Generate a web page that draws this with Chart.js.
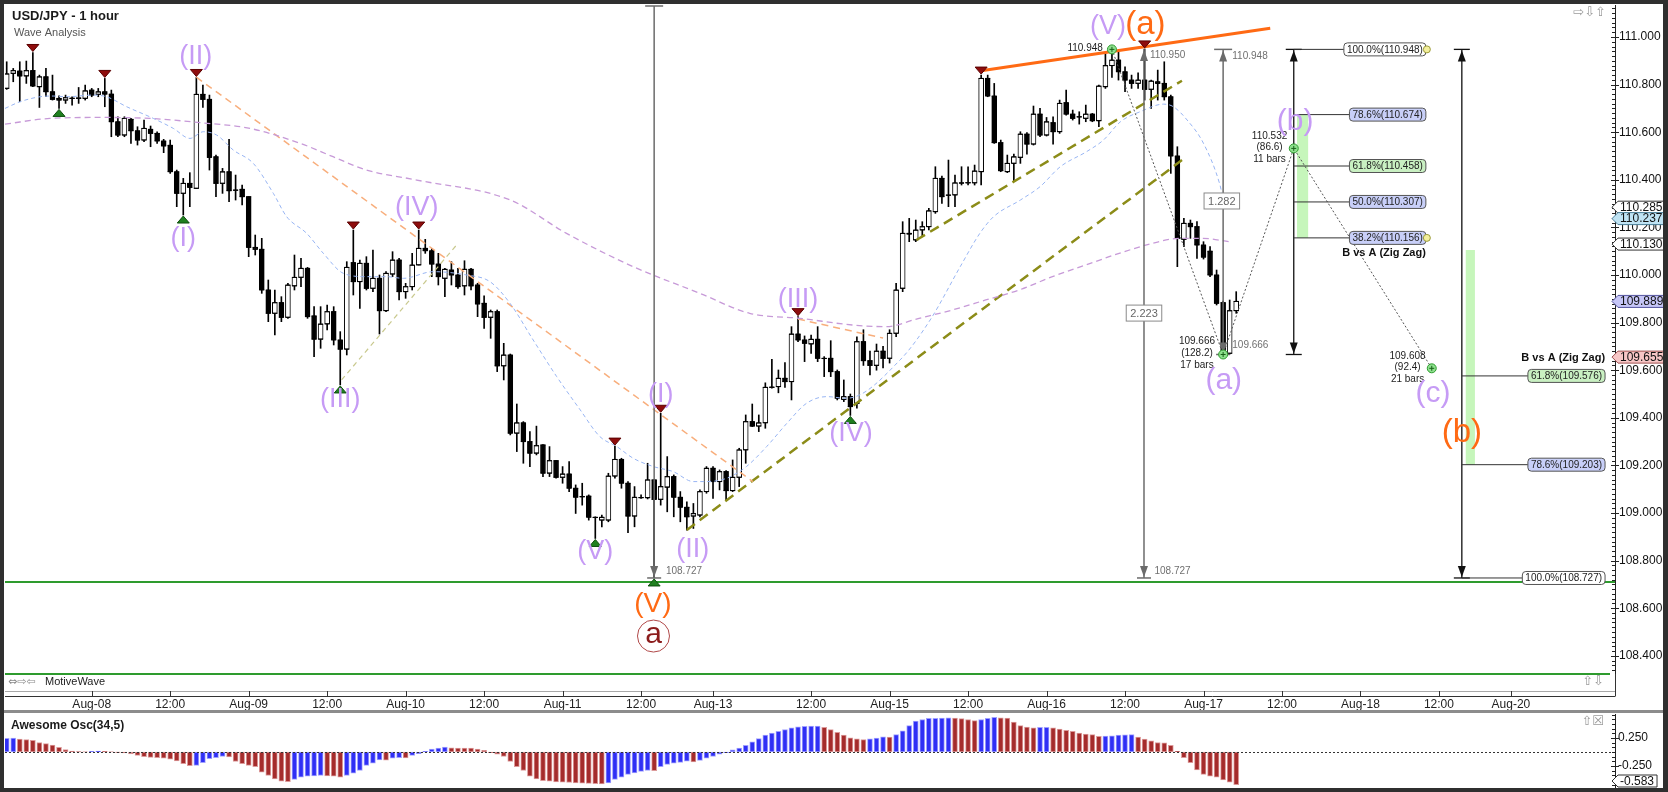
<!DOCTYPE html>
<html>
<head>
<meta charset="utf-8">
<title>USD/JPY - 1 hour</title>
<script src="https://cdn.jsdelivr.net/npm/chart.js@4.4.1/dist/chart.umd.min.js"></script>
<style>
  html, body { margin: 0; padding: 0; background: #fff; }
  #wrap { position: relative; width: 1668px; height: 792px; overflow: hidden; background: #fff; }
  #price-chart { position: absolute; left: 0; top: 0; }
  #osc-chart { position: absolute; left: 0; top: 711px; }
  .frame { position: absolute; background: #2f2f2f; }
</style>
</head>
<body>
<div id="wrap">
  <canvas id="price-chart" width="1668" height="711"></canvas>
  <canvas id="osc-chart" width="1668" height="81"></canvas>
  <div class="frame" style="left:0;top:0;width:1668px;height:4px"></div>
  <div class="frame" style="left:0;top:0;width:4px;height:792px"></div>
  <div class="frame" style="left:1663px;top:0;width:5px;height:792px"></div>
  <div class="frame" style="left:0;top:788px;width:1668px;height:4px"></div>
  <div style="position:absolute;left:4px;top:710px;width:1659px;height:3px;background:#8c8c8c"></div>
</div>
<script>
// hourly bars, index 0 = Aug-08 00:00, first visible bar is -13
const firstBar = -13

const opens = [
  110.784, 110.847, 110.857, 110.836, 110.859, 110.791, 110.833, 110.770, 110.742, 110.735,
  110.743, 110.742, 110.742, 110.777, 110.759, 110.770, 110.760, 110.644, 110.588, 110.654,
  110.606, 110.567, 110.612, 110.595, 110.563, 110.545, 110.434, 110.343, 110.385, 110.364,
  110.759, 110.738, 110.497, 110.385, 110.434, 110.357, 110.360, 110.329, 110.116, 110.108,
  109.937, 109.839, 109.884, 109.822, 109.954, 109.990, 110.028, 109.828, 109.730, 109.794,
  109.846, 109.727, 109.688, 110.052, 109.972, 110.049, 109.944, 109.986, 109.850, 110.004,
  110.063, 109.930, 109.951, 110.042, 110.112, 110.102, 110.046, 109.986, 110.021, 110.000,
  109.954, 110.024, 109.958, 109.881, 109.822, 109.846, 109.618, 109.664, 109.335, 109.379,
  109.300, 109.251, 109.286, 109.167, 109.220, 109.150, 109.164, 109.104, 109.069, 109.071,
  108.982, 108.970, 108.970, 109.155, 109.225, 109.125, 108.987, 109.064, 109.064, 109.139,
  109.057, 109.108, 109.153, 109.066, 109.024, 108.987, 108.991, 109.090, 109.188, 109.132,
  109.174, 109.094, 109.150, 109.265, 109.384, 109.365, 109.379, 109.528, 109.531, 109.566,
  109.552, 109.752, 109.727, 109.710, 109.730, 109.650, 109.650, 109.594, 109.477, 109.489,
  109.460, 109.720, 109.640, 109.620, 109.680, 109.650, 109.755, 109.944, 110.175, 110.147,
  110.189, 110.203, 110.266, 110.406, 110.336, 110.336, 110.387, 110.387, 110.387, 110.434,
  110.826, 110.752, 110.556, 110.434, 110.469, 110.494, 110.592, 110.550, 110.676, 110.588,
  110.640, 110.602, 110.724, 110.676, 110.665, 110.658, 110.676, 110.648, 110.791, 110.880,
  110.903, 110.854, 110.819, 110.805, 110.819, 110.780, 110.812, 110.805, 110.749, 110.500,
  110.150, 110.217, 110.203, 110.126, 110.100, 110.000, 109.884, 109.671, 109.850
]
const highs = [
  110.896, 110.868, 110.896, 110.899, 110.935, 110.840, 110.868, 110.840, 110.753, 110.756,
  110.749, 110.788, 110.798, 110.784, 110.784, 110.826, 110.777, 110.665, 110.665, 110.658,
  110.623, 110.651, 110.626, 110.602, 110.570, 110.567, 110.441, 110.406, 110.430, 110.830,
  110.798, 110.756, 110.504, 110.448, 110.570, 110.420, 110.378, 110.329, 110.168, 110.154,
  109.979, 109.937, 109.909, 109.965, 110.084, 110.070, 110.032, 109.867, 109.867, 109.874,
  109.867, 109.762, 110.056, 110.189, 110.063, 110.077, 110.105, 110.000, 110.014, 110.098,
  110.070, 109.965, 110.091, 110.189, 110.150, 110.112, 110.091, 110.028, 110.056, 110.028,
  110.060, 110.028, 109.965, 109.912, 109.853, 109.853, 109.713, 109.668, 109.458, 109.384,
  109.342, 109.365, 109.288, 109.279, 109.220, 109.195, 109.216, 109.118, 109.125, 109.076,
  108.984, 108.991, 109.167, 109.281, 109.230, 109.132, 109.111, 109.076, 109.209, 109.139,
  109.419, 109.237, 109.160, 109.090, 109.047, 109.040, 109.097, 109.195, 109.195, 109.181,
  109.178, 109.223, 109.272, 109.412, 109.458, 109.412, 109.547, 109.646, 109.601, 109.632,
  109.783, 109.825, 109.744, 109.748, 109.783, 109.657, 109.724, 109.601, 109.559, 109.500,
  109.740, 109.770, 109.680, 109.710, 109.700, 109.770, 109.965, 110.224, 110.238, 110.231,
  110.224, 110.280, 110.455, 110.416, 110.483, 110.420, 110.455, 110.455, 110.462, 110.840,
  110.840, 110.805, 110.567, 110.504, 110.508, 110.602, 110.598, 110.710, 110.700, 110.662,
  110.665, 110.735, 110.777, 110.693, 110.686, 110.714, 110.679, 110.798, 110.932, 110.948,
  110.938, 110.875, 110.840, 110.850, 110.950, 110.819, 110.861, 110.896, 110.756, 110.539,
  110.238, 110.231, 110.224, 110.140, 110.119, 110.021, 109.890, 109.895, 109.930
]
const lows = [
  110.780, 110.812, 110.728, 110.805, 110.791, 110.704, 110.749, 110.735, 110.700, 110.721,
  110.714, 110.721, 110.735, 110.749, 110.749, 110.707, 110.581, 110.581, 110.581, 110.553,
  110.546, 110.560, 110.539, 110.553, 110.514, 110.427, 110.287, 110.252, 110.287, 110.364,
  110.704, 110.441, 110.329, 110.343, 110.308, 110.315, 110.294, 110.077, 110.084, 109.923,
  109.804, 109.748, 109.804, 109.818, 109.937, 109.951, 109.818, 109.657, 109.692, 109.769,
  109.706, 109.538, 109.664, 109.916, 109.860, 109.937, 109.930, 109.752, 109.846, 109.993,
  109.895, 109.902, 109.937, 110.042, 110.091, 109.993, 109.958, 109.909, 109.958, 109.944,
  109.916, 109.937, 109.825, 109.776, 109.734, 109.594, 109.559, 109.328, 109.258, 109.209,
  109.195, 109.244, 109.153, 109.153, 109.146, 109.125, 109.090, 108.998, 109.033, 108.970,
  108.893, 108.942, 108.963, 109.146, 109.104, 108.917, 108.942, 109.061, 109.059, 108.727,
  109.033, 109.005, 108.984, 108.963, 108.928, 108.935, 108.984, 109.083, 109.061, 109.097,
  109.054, 109.090, 109.111, 109.209, 109.363, 109.342, 109.356, 109.524, 109.505, 109.528,
  109.475, 109.720, 109.636, 109.671, 109.636, 109.573, 109.573, 109.475, 109.468, 109.410,
  109.440, 109.620, 109.580, 109.600, 109.610, 109.630, 109.741, 109.930, 110.140, 110.140,
  110.161, 110.189, 110.259, 110.301, 110.287, 110.287, 110.378, 110.378, 110.378, 110.378,
  110.749, 110.553, 110.434, 110.430, 110.392, 110.469, 110.508, 110.546, 110.581, 110.584,
  110.550, 110.595, 110.672, 110.651, 110.634, 110.644, 110.644, 110.623, 110.784, 110.830,
  110.819, 110.770, 110.784, 110.784, 110.735, 110.700, 110.735, 110.735, 110.427, 110.035,
  110.119, 110.154, 110.070, 110.067, 109.993, 109.874, 109.666, 109.668, 109.839
]
const closes = [
  110.845, 110.859, 110.836, 110.859, 110.794, 110.833, 110.770, 110.738, 110.735, 110.745,
  110.742, 110.744, 110.774, 110.756, 110.770, 110.760, 110.644, 110.588, 110.658, 110.606,
  110.567, 110.616, 110.595, 110.563, 110.542, 110.434, 110.343, 110.385, 110.368, 110.759,
  110.738, 110.494, 110.385, 110.434, 110.354, 110.356, 110.329, 110.116, 110.108, 109.937,
  109.839, 109.884, 109.822, 109.958, 109.990, 110.028, 109.825, 109.730, 109.794, 109.846,
  109.727, 109.688, 110.032, 109.972, 110.049, 109.944, 109.986, 109.850, 110.007, 110.063,
  109.930, 109.951, 110.042, 110.112, 110.102, 110.046, 109.993, 110.024, 110.000, 109.951,
  110.024, 109.954, 109.878, 109.822, 109.846, 109.618, 109.664, 109.335, 109.379, 109.300,
  109.251, 109.283, 109.167, 109.220, 109.150, 109.164, 109.104, 109.066, 109.068, 108.982,
  108.981, 108.982, 109.155, 109.225, 109.125, 108.987, 109.066, 109.065, 109.139, 109.057,
  109.111, 109.153, 109.066, 109.024, 108.984, 108.998, 109.090, 109.188, 109.132, 109.174,
  109.094, 109.150, 109.265, 109.384, 109.365, 109.379, 109.528, 109.529, 109.566, 109.552,
  109.752, 109.727, 109.713, 109.730, 109.650, 109.649, 109.594, 109.482, 109.489, 109.447,
  109.720, 109.640, 109.620, 109.680, 109.650, 109.755, 109.937, 110.175, 110.172, 110.189,
  110.203, 110.270, 110.406, 110.329, 110.335, 110.387, 110.386, 110.388, 110.437, 110.826,
  110.752, 110.556, 110.438, 110.469, 110.497, 110.592, 110.550, 110.676, 110.588, 110.644,
  110.602, 110.721, 110.676, 110.658, 110.664, 110.676, 110.648, 110.794, 110.880, 110.903,
  110.854, 110.819, 110.805, 110.819, 110.780, 110.815, 110.805, 110.749, 110.500, 110.154,
  110.217, 110.203, 110.126, 110.075, 110.000, 109.881, 109.671, 109.850, 109.889
]

// Awesome Osc(34,5), one value per bar
const oscValues = [
  0.245, 0.25, 0.23, 0.22, 0.21, 0.17, 0.15, 0.125, 0.083, 0.042,
  0.018, 0.006, 0.002, 0.010, 0.015, 0.010, 0.004, -0.006, -0.018, -0.036,
  -0.06, -0.085, -0.095, -0.10, -0.11, -0.13, -0.16, -0.21, -0.245, -0.24,
  -0.19, -0.12, -0.10, -0.08, -0.09, -0.17, -0.21, -0.24, -0.26, -0.36,
  -0.42, -0.48, -0.52, -0.53, -0.49, -0.45, -0.43, -0.425, -0.42, -0.425,
  -0.43, -0.45, -0.42, -0.38, -0.33, -0.24, -0.20, -0.14, -0.145, -0.11,
  -0.10, -0.105, -0.06, -0.03, 0.01, 0.05, 0.07, 0.09, 0.075, 0.072,
  0.07, 0.068, 0.05, 0.03, -0.01, -0.04, -0.08, -0.17, -0.26, -0.33,
  -0.43, -0.48, -0.51, -0.52, -0.535, -0.54, -0.545, -0.55, -0.555, -0.56,
  -0.565, -0.57, -0.55, -0.49, -0.45, -0.40, -0.375, -0.345, -0.33, -0.335,
  -0.26, -0.22, -0.20, -0.185, -0.165, -0.175, -0.15, -0.11, -0.08, -0.04,
  -0.01, 0.04, 0.07, 0.12, 0.18, 0.24, 0.30, 0.34, 0.37, 0.40,
  0.43, 0.45, 0.46, 0.462, 0.465, 0.44, 0.40, 0.35, 0.30, 0.255,
  0.235, 0.22, 0.235, 0.25, 0.27, 0.268, 0.31, 0.38, 0.47, 0.55,
  0.58, 0.60, 0.602, 0.607, 0.61, 0.607, 0.595, 0.58, 0.56, 0.58,
  0.60, 0.62, 0.61, 0.605, 0.536, 0.47, 0.446, 0.43, 0.44, 0.442,
  0.43, 0.41, 0.387, 0.37, 0.34, 0.32, 0.31, 0.28, 0.285, 0.29,
  0.30, 0.305, 0.31, 0.268, 0.23, 0.20, 0.17, 0.165, 0.12, 0.012,
  -0.10, -0.19, -0.32, -0.40, -0.43, -0.45, -0.50, -0.54, -0.583
]

// moving averages (bar, price)
const maFastBars = [-13.26, -10.96, -7.9, -5.87, -3.83, 0.24, 2.28, 5.35, 9.42, 12.48, 15.03, 17.07, 19.11, 21.65,
  24.71, 27.77, 29.81, 32.87, 35.42, 38.48, 42.05, 45.1, 47.65, 52.2, 57.3, 60.9, 63.96, 67.5, 71.1, 74.7, 77.7,
  80.3, 82.8, 85.9, 88.9, 92.0, 94.0, 97.1, 100.1, 103.2, 106.3, 109.3, 112.4, 115.4, 123.6, 128.2, 132.8, 135.8,
  137.9, 142.0, 145.0, 148.1, 152.1, 154.7, 157.3, 160.3, 163.9, 165.4, 167.5, 170.0, 172.5, 173.0]
const maFastValues = [110.700, 110.728, 110.749, 110.752, 110.749, 110.756, 110.749, 110.707, 110.658, 110.616, 110.574,
  110.602, 110.588, 110.525, 110.469, 110.343, 110.245, 110.175, 110.091, 110.007, 109.993, 109.993, 109.986, 110.014,
  110.000, 109.972, 109.881, 109.727, 109.573, 109.433, 109.321, 109.279, 109.230, 109.195, 109.174, 109.132, 109.132,
  109.146, 109.195, 109.279, 109.377, 109.461, 109.489, 109.482, 109.643, 109.811, 110.035, 110.175, 110.245, 110.315,
  110.371, 110.455, 110.518, 110.567, 110.644, 110.686, 110.718, 110.707, 110.651, 110.553, 110.380, 110.320]
const maSlowBars = [-13.26, -6.4, 1.3, 8.9, 16.6, 24.2, 31.9, 36.9, 42.0, 49.7, 64.0, 72.6, 82.8, 93.0, 100.6, 108.3,
  116.3, 121.4, 126.5, 131.6, 136.7, 141.8, 146.9, 152.0, 157.1, 162.2, 166.3, 169.8, 174.0]
const maSlowValues = [110.634, 110.658, 110.662, 110.658, 110.640, 110.616, 110.553, 110.497, 110.441, 110.399, 110.315,
  110.175, 110.035, 109.923, 109.839, 109.818, 109.790, 109.783, 109.818, 109.853, 109.895, 109.937, 109.993, 110.042,
  110.091, 110.133, 110.154, 110.154, 110.140]

// trend lines (two end points each)
const orangeTopBars = [136.0, 180.2], orangeTopPrices = [110.858, 111.037]
const orangeDashBars = [16, 101.1], orangeDashPrices = [110.831, 109.132]
const orangeDash2Bars = [108, 121], orangeDash2Prices = [109.815, 109.735]
const oliveThinBars = [38.2, 56], oliveThinPrices = [109.559, 110.133]
const oliveLowBars = [91, 167.4], oliveLowPrices = [108.929, 110.497]
const oliveHighBars = [126.1, 166.7], oliveHighPrices = [110.147, 110.816]
const zigBars = [156, 173, 183.8, 204.9], zigPrices = [110.948, 109.666, 110.532, 109.608]

// axis ticks
const priceTicks = [108.4, 108.6, 108.8, 109.0, 109.2, 109.4, 109.6, 109.8, 110.0, 110.2, 110.4, 110.6, 110.8, 111.0]
const timeTickBars = [0, 12, 24, 36, 48, 60, 72, 84, 95, 110, 122, 134, 146, 158, 170, 182, 194, 206, 217]
const timeTickText = ['Aug-08', '12:00', 'Aug-09', '12:00', 'Aug-10', '12:00', 'Aug-11', '12:00', 'Aug-13', '12:00',
  'Aug-15', '12:00', 'Aug-16', '12:00', 'Aug-17', '12:00', 'Aug-18', '12:00', 'Aug-20']
const oscTicks = [0.25, -0.25]

// swing markers
const swingHighBars = [-9, 2, 16, 40, 50, 80, 87, 108, 136, 161]
const swingHighPrices = [110.935, 110.826, 110.830, 110.189, 110.189, 109.281, 109.419, 109.825, 110.840, 110.950]
const swingLowBars = [-5, 14, 38, 77, 86, 116]
const swingLowPrices = [110.700, 110.252, 109.538, 108.893, 108.727, 109.410]
const supportLevel = 108.71

// wave labels (text centre in bar / price units)
const waveText = ['(II)', '(I)', '(III)', '(IV)', '(V)', '(I)', '(II)', '(III)', '(IV)', '(V)']
const waveBars = [15.9, 14.0, 38.0, 49.7, 77.0, 87.0, 91.9, 108.0, 116.1, 155.4]
const wavePrices = [110.916, 110.155, 109.475, 110.282, 108.836, 109.496, 108.845, 109.895, 109.332, 111.042]
const subWaveText = ['(a)', '(b)', '(c)']
const subWaveBars = [173.1, 184.0, 205.1]
const subWavePrices = [109.555, 110.643, 109.500]
const bigWaveText = ['(a)', '(b)', '(V)']
const bigWaveBars = [161.1, 209.5, 85.8]
const bigWavePrices = [111.050, 109.336, 108.618]
const circleWave = { text: 'a', bar: 85.9, price: 108.483 }

// measuring tools
const measBars = [86, 160.9, 173]
const measTop = [111.3, 110.950, 110.948]
const measBottom = [108.727, 108.727, 109.666]
const measText = ['108.727', '110.950', '108.727', '110.948', '109.666']
const measTextBars = [87.8, 161.8, 162.5, 174.4, 174.4]
const measTextPrices = [108.756, 110.924, 108.756, 110.921, 109.706]
const measBoxText = ['2.223', '1.282']
const measBoxBars = [160.9, 172.8]
const measBoxPrices = [109.840, 110.311]

// zig zag notes
const noteText = ['110.948', '109.666', '(128.2)', '17 bars', '110.532', '(86.6)', '11 bars', '109.608', '(92.4)', '21 bars']
const noteBars = [151.9, 169.0, 169.0, 169.0, 180.1, 180.1, 180.1, 201.2, 201.2, 201.2]
const notePrices = [110.952, 109.720, 109.671, 109.622, 110.581, 110.535, 110.486, 109.660, 109.612, 109.563]

// B vs A retracements
const fibABar = 183.8, fibATop = 110.948, fibABottom = 109.666, fibABoxRight = 204.0
const fibALevels = [100.0, 78.6, 61.8, 50.0, 38.2]
const fibAPrices = [110.948, 110.674, 110.458, 110.307, 110.156]
const fibBBar = 209.5, fibBTop = 110.948, fibBBottom = 108.727, fibBBoxRight = 231.4
const fibBLevels = [61.8, 78.6, 100.0]
const fibBPrices = [109.576, 109.203, 108.727]
const fibTitleBars = [204.0, 231.4], fibTitlePrices = [110.091, 109.651]
const zoneFrom = [184.3, 210.1], zoneTo = [186.0, 211.5]
const zoneHigh = [110.674, 110.105], zoneLow = [110.156, 109.203]

// values shown on the price axis
const axisMarks = [110.285, 110.237, 110.130, 109.889, 109.655]

const X_MIN = -13.26, X_MAX = 232.92
const P_MIN = 108.3235, P_MAX = 111.1345
const FONT = "'Liberation Sans', Arial, sans-serif"
const PURPLE = '#c69bf5', ORANGE = '#ff6a14'

Chart.defaults.font.family = FONT
const bars = opens.map((_, k) => firstBar + k)
const pts = (xs, ys) => xs.map((x, k) => ({ x: x, y: ys[k] }))

function line(ctx, x0, y0, x1, y1) {
    ctx.beginPath()
    ctx.moveTo(x0, y0)
    ctx.lineTo(x1, y1)
    ctx.stroke()
}

function arrowHead(ctx, x, tipY, dir) { // dir -1 = up, 1 = down
    ctx.beginPath()
    ctx.moveTo(x, tipY)
    ctx.lineTo(x - 4, tipY - dir * 11)
    ctx.lineTo(x + 4, tipY - dir * 11)
    ctx.closePath()
    ctx.fill()
}

function roundBox(ctx, x, y, w, h, r) {
    ctx.beginPath()
    ctx.moveTo(x + r, y)
    ctx.lineTo(x + w - r, y)
    ctx.arcTo(x + w, y, x + w, y + r, r)
    ctx.lineTo(x + w, y + h - r)
    ctx.arcTo(x + w, y + h, x + w - r, y + h, r)
    ctx.lineTo(x + r, y + h)
    ctx.arcTo(x, y + h, x, y + h - r, r)
    ctx.lineTo(x, y + r)
    ctx.arcTo(x, y, x + r, y, r)
    ctx.closePath()
}

function text(ctx, str, x, y, font, color, align) {
    ctx.font = font
    ctx.fillStyle = color
    ctx.textAlign = align || 'center'
    ctx.textBaseline = 'middle'
    ctx.fillText(str, x, y)
}

function callout(ctx, x, y, str, fill, stroke) {
    ctx.font = '12px ' + FONT
    const w = ctx.measureText(str).width + 5, h = 12
    ctx.beginPath()
    ctx.moveTo(x, y)
    ctx.lineTo(x + 6, y - h / 2)
    ctx.lineTo(x + 6 + w, y - h / 2)
    ctx.lineTo(x + 6 + w, y + h / 2)
    ctx.lineTo(x + 6, y + h / 2)
    ctx.closePath()
    ctx.fillStyle = fill
    ctx.fill()
    ctx.strokeStyle = stroke
    ctx.lineWidth = 1
    ctx.stroke()
    text(ctx, str, x + 8, y + 0.5, '12px ' + FONT, '#111', 'left')
}

function plusMarker(ctx, x, y) {
    ctx.beginPath()
    ctx.arc(x, y, 4.5, 0, Math.PI * 2)
    ctx.fillStyle = '#8de08d'
    ctx.fill()
    ctx.strokeStyle = '#2e9a2e'
    ctx.lineWidth = 1
    ctx.stroke()
    ctx.strokeStyle = '#176017'
    line(ctx, x - 2.5, y, x + 2.5, y)
    line(ctx, x, y - 2.5, x, y + 2.5)
}

function fibTool(ctx, X, Y, bar, top, bottom, levels, prices, boxRight, dotLevels) {
    const x = X(bar), xr = X(boxRight)
    ctx.strokeStyle = '#111'
    ctx.fillStyle = '#111'
    ctx.lineWidth = 1.3
    line(ctx, x, Y(top), x, Y(bottom))
    line(ctx, x - 8, Y(top), x + 8, Y(top))
    line(ctx, x - 8, Y(bottom), x + 8, Y(bottom))
    arrowHead(ctx, x, Y(top) + 1, -1)
    arrowHead(ctx, x, Y(bottom) - 1, 1)
    levels.forEach((lv, k) => {
        const str = lv.toFixed(1) + '%(' + prices[k].toFixed(3) + ')'
        ctx.font = '10px ' + FONT
        const w = ctx.measureText(str).width + 6, y = Y(prices[k])
        ctx.strokeStyle = '#333'
        ctx.lineWidth = 1
        line(ctx, x, y, xr - w, y)
        roundBox(ctx, xr - w, y - 6.5, w, 13, 3.5)
        ctx.fillStyle = lv === 100 ? '#ffffff' : (lv === 61.8 ? '#c9f0c2' : '#c8cff8')
        ctx.fill()
        ctx.strokeStyle = '#555'
        ctx.stroke()
        text(ctx, str, xr - w / 2, y + 0.5, '10px ' + FONT, '#222')
        if (dotLevels.indexOf(lv) >= 0) {
            ctx.beginPath()
            ctx.arc(xr + 1, y, 3.5, 0, Math.PI * 2)
            ctx.fillStyle = '#f3ef9c'
            ctx.fill()
            ctx.strokeStyle = '#9a9a3a'
            ctx.stroke()
        }
    })
}

const zonePlugin = {
    id: 'zones',
    beforeDatasetsDraw(chart) {
        const X = v => chart.scales.x.getPixelForValue(v)
        const Y = v => chart.scales.y.getPixelForValue(v)
        const ctx = chart.ctx
        ctx.save()
        ctx.fillStyle = '#c6f6bb'
        zoneFrom.forEach((b, k) => {
            ctx.fillRect(X(b), Y(zoneHigh[k]), X(zoneTo[k]) - X(b), Y(zoneLow[k]) - Y(zoneHigh[k]))
        })
        ctx.restore()
    }
}

const overlayPlugin = {
    id: 'overlay',
    afterDatasetsDraw(chart) {
        const X = v => chart.scales.x.getPixelForValue(v)
        const Y = v => chart.scales.y.getPixelForValue(v)
        const ctx = chart.ctx, area = chart.chartArea
        ctx.save()
        ctx.beginPath()
        ctx.rect(area.left, area.top, area.right - area.left, area.bottom - area.top)
        ctx.clip()

        // support line under the wave (V) low
        ctx.strokeStyle = '#2e9b2e'
        ctx.lineWidth = 2
        line(ctx, area.left, Y(supportLevel), area.right, Y(supportLevel))

        // grey measuring lines
        measBars.forEach((b, k) => {
            const x = X(b), yt = Math.max(Y(measTop[k]), area.top + 1), yb = Y(measBottom[k])
            ctx.strokeStyle = '#6b6b6b'
            ctx.fillStyle = '#6b6b6b'
            ctx.lineWidth = 1.5
            line(ctx, x, yt, x, yb)
            if (k !== 1) line(ctx, x - 9, yt, x + 9, yt)
            line(ctx, x - 7, yb, x + 7, yb)
            if (k !== 0) arrowHead(ctx, x, yt + 1, -1)
            arrowHead(ctx, x, yb - 1, 1)
        })
        measText.forEach((s, k) => {
            text(ctx, s, X(measTextBars[k]), Y(measTextPrices[k]), '10px ' + FONT, '#707070', 'left')
        })
        measBoxText.forEach((s, k) => {
            ctx.font = '11px ' + FONT
            const w = ctx.measureText(s).width + 8, x = X(measBoxBars[k]), y = Y(measBoxPrices[k])
            ctx.fillStyle = '#fff'
            ctx.fillRect(x - w / 2, y - 8, w, 16)
            ctx.strokeStyle = '#8a8a8a'
            ctx.lineWidth = 1
            ctx.strokeRect(x - w / 2, y - 8, w, 16)
            text(ctx, s, x, y + 0.5, '11px ' + FONT, '#666')
        })

        // retracement tools
        fibTool(ctx, X, Y, fibABar, fibATop, fibABottom, fibALevels, fibAPrices, fibABoxRight, [100.0, 38.2])
        fibTool(ctx, X, Y, fibBBar, fibBTop, fibBBottom, fibBLevels, fibBPrices, fibBBoxRight, [])
        fibTitleBars.forEach((b, k) => {
            text(ctx, 'B vs A (Zig Zag)', X(b), Y(fibTitlePrices[k]), 'bold 11px ' + FONT, '#111', 'right')
        })

        // swing markers
        ctx.lineWidth = 1
        swingHighBars.forEach((b, k) => {
            const x = X(b), y = Y(swingHighPrices[k]) - 1
            ctx.beginPath()
            ctx.moveTo(x, y)
            ctx.lineTo(x - 6, y - 7)
            ctx.lineTo(x + 6, y - 7)
            ctx.closePath()
            ctx.fillStyle = '#8e0c0c'
            ctx.fill()
            ctx.strokeStyle = '#5a0000'
            ctx.stroke()
        })
        swingLowBars.forEach((b, k) => {
            const x = X(b), y = Y(swingLowPrices[k]) + 1
            ctx.beginPath()
            ctx.moveTo(x, y)
            ctx.lineTo(x - 6, y + 7)
            ctx.lineTo(x + 6, y + 7)
            ctx.closePath()
            ctx.fillStyle = '#1f801f'
            ctx.fill()
            ctx.strokeStyle = '#0d4d0d'
            ctx.stroke()
        })
        zigBars.forEach((b, k) => plusMarker(ctx, X(b), Y(zigPrices[k])))

        noteText.forEach((s, k) => {
            text(ctx, s, X(noteBars[k]), Y(notePrices[k]), '10px ' + FONT, '#222')
        })

        // wave labels
        waveText.forEach((s, k) => text(ctx, s, X(waveBars[k]), Y(wavePrices[k]), '27px ' + FONT, PURPLE))
        subWaveText.forEach((s, k) => text(ctx, s, X(subWaveBars[k]), Y(subWavePrices[k]), '30px ' + FONT, PURPLE))
        bigWaveText.forEach((s, k) => {
            const size = s === '(V)' ? 28 : 33
            text(ctx, s, X(bigWaveBars[k]), Y(bigWavePrices[k]), size + 'px ' + FONT, ORANGE)
        })
        const cx = X(circleWave.bar), cy = Y(circleWave.price)
        ctx.beginPath()
        ctx.arc(cx, cy, 16, 0, Math.PI * 2)
        ctx.strokeStyle = '#b04848'
        ctx.lineWidth = 1
        ctx.stroke()
        text(ctx, circleWave.text, cx, cy - 1, '30px ' + FONT, '#8b1c1c')
        ctx.restore()
    },
    afterDraw(chart) {
        const X = v => chart.scales.x.getPixelForValue(v)
        const Y = v => chart.scales.y.getPixelForValue(v)
        const ctx = chart.ctx, area = chart.chartArea
        ctx.save()
        // bottom border of the price pane
        ctx.strokeStyle = '#2e9b2e'
        ctx.lineWidth = 2
        line(ctx, area.left, area.bottom, area.right - 5, area.bottom)

        // time axis rules and ticks
        ctx.lineWidth = 1
        ctx.strokeStyle = '#a8a8a8'
        line(ctx, area.left, 691.5, area.right, 691.5)
        ctx.strokeStyle = '#333'
        line(ctx, area.left, 696.5, area.right, 696.5)
        timeTickBars.forEach(b => line(ctx, Math.round(X(b)) + 0.5, 691, Math.round(X(b)) + 0.5, 696))
        line(ctx, area.right + 0.5, area.bottom, area.right + 0.5, 696.5)

        // price axis minor ticks
        ctx.strokeStyle = '#222'
        for (let k = 0; k <= 140; k++) {
            const v = 108.34 + k * 0.02
            if (v > P_MAX) break
            const y = Math.round(Y(v)) + 0.5
            const major = Math.abs(v * 5 - Math.round(v * 5)) < 0.01
            line(ctx, area.right - (major ? 4 : 3), y, area.right + (major ? 4 : 0), y)
        }

        // current value marks
        const fills = ['#ffffff', '#bfe3f3', '#ffffff', '#c6c6f7', '#f7c6c6']
        const strokes = ['#333', '#4a7f99', '#333', '#5555a0', '#a05050']
        axisMarks.forEach((v, k) => callout(ctx, area.right - 3, Y(v), v.toFixed(3), fills[k], strokes[k]))

        // titles and pane furniture
        text(ctx, 'USD/JPY - 1 hour', 12, 16, 'bold 13px ' + FONT, '#1a1a1a', 'left')
        text(ctx, 'Wave Analysis', 14, 33, '11px ' + FONT, '#555', 'left')
        text(ctx, '\u21E8\u21E9\u21E7', 1606, 13, '13px DejaVu Sans', '#9a9a9a', 'right')
        text(ctx, '\u21D4\u21E8\u21E6', 8, 682, '11px DejaVu Sans', '#8a8a8a', 'left')
        text(ctx, 'MotiveWave', 45, 682, '11px ' + FONT, '#222', 'left')
        text(ctx, '\u21E7\u21E9', 1604, 682, '13px DejaVu Sans', '#9a9a9a', 'right')
        ctx.restore()
    }
}

const priceChart = new Chart(document.getElementById('price-chart'), {
    type: 'bar',
    data: {
        datasets: [
            { type: 'line', label: 'fast average', data: pts(maFastBars, maFastValues), borderColor: '#98b5f3',
              borderWidth: 1, borderDash: [4, 3], pointRadius: 0, cubicInterpolationMode: 'monotone', order: 1 },
            { type: 'line', label: 'slow average', data: pts(maSlowBars, maSlowValues), borderColor: '#c79ad8',
              borderWidth: 1.3, borderDash: [6, 4], pointRadius: 0, cubicInterpolationMode: 'monotone', order: 1 },
            { type: 'line', label: 'wave channel', data: pts(orangeDashBars, orangeDashPrices), borderColor: '#f8ae7c',
              borderWidth: 1.5, borderDash: [7, 5], pointRadius: 0, order: 1 },
            { type: 'line', label: 'wave channel 2', data: pts(orangeDash2Bars, orangeDash2Prices), borderColor: '#f8ae7c',
              borderWidth: 1.5, borderDash: [7, 5], pointRadius: 0, order: 1 },
            { type: 'line', label: 'minor channel', data: pts(oliveThinBars, oliveThinPrices), borderColor: '#c9c98e',
              borderWidth: 1.2, borderDash: [5, 4], pointRadius: 0, order: 1 },
            { type: 'line', label: 'lower channel', data: pts(oliveLowBars, oliveLowPrices), borderColor: '#8c8c18',
              borderWidth: 2.5, borderDash: [10, 6], pointRadius: 0, order: 1 },
            { type: 'line', label: 'upper channel', data: pts(oliveHighBars, oliveHighPrices), borderColor: '#8c8c18',
              borderWidth: 2.5, borderDash: [10, 6], pointRadius: 0, order: 1 },
            { type: 'line', label: 'top line', data: pts(orangeTopBars, orangeTopPrices), borderColor: ORANGE,
              borderWidth: 3, pointRadius: 0, order: 1 },
            { type: 'line', label: 'zig zag', data: pts(zigBars, zigPrices), borderColor: '#555',
              borderWidth: 1, borderDash: [2, 2], pointRadius: 0, order: 1 },
            { type: 'scatter', label: 'open close', data: pts(bars, opens).concat(pts(bars, closes)),
              pointStyle: 'line', pointRadius: 2.5, borderColor: '#000', borderWidth: 1, order: 4 },
            { type: 'bar', label: 'bodies', data: bars.map((b, k) => ({ x: b, y: [opens[k], closes[k]] })),
              backgroundColor: c => closes[c.dataIndex] >= opens[c.dataIndex] ? '#ffffff' : '#000000',
              borderColor: '#000', borderWidth: 1, borderSkipped: false, barThickness: 5, grouped: false, order: 5 },
            { type: 'bar', label: 'wicks', data: bars.map((b, k) => ({ x: b, y: [lows[k], highs[k]] })),
              backgroundColor: '#000', borderWidth: 0, barThickness: 1, grouped: false, order: 6 }
        ]
    },
    options: {
        responsive: false,
        animation: false,
        devicePixelRatio: 1,
        layout: { padding: { left: 5, top: 5, right: 0, bottom: 0 } },
        plugins: { legend: { display: false }, tooltip: { enabled: false } },
        scales: {
            x: {
                type: 'linear', min: X_MIN, max: X_MAX, offset: false,
                grid: { display: false, drawTicks: false }, border: { display: false },
                afterBuildTicks: s => { s.ticks = timeTickBars.map(v => ({ value: v })) },
                afterFit: s => { s.height = 37; s.paddingLeft = 0; s.paddingRight = 0 },
                ticks: { autoSkip: false, maxRotation: 0, padding: 23, color: '#222', font: { size: 12 },
                         callback: (v, i) => timeTickText[i] }
            },
            y: {
                type: 'linear', position: 'right', min: P_MIN, max: P_MAX,
                grid: { display: false, drawTicks: false }, border: { display: true, color: '#222', width: 1 },
                afterBuildTicks: s => { s.ticks = priceTicks.map(v => ({ value: v })) },
                afterFit: s => { s.width = 53; s.paddingTop = 0; s.paddingBottom = 0 },
                ticks: { padding: 4, color: '#111', font: { size: 12 }, callback: v => v.toFixed(3) }
            }
        }
    },
    plugins: [zonePlugin, overlayPlugin]
})

const oscPlugin = {
    id: 'oscOverlay',
    afterDatasetsDraw(chart) {
        const ctx = chart.ctx, area = chart.chartArea
        const y0 = Math.round(chart.scales.y.getPixelForValue(0)) + 0.5
        ctx.save()
        ctx.strokeStyle = '#333'
        ctx.lineWidth = 1
        ctx.setLineDash([2, 2])
        line(ctx, area.left, y0, area.right, y0)
        ctx.restore()
    },
    afterDraw(chart) {
        const ctx = chart.ctx, area = chart.chartArea, ys = chart.scales.y
        ctx.save()
        ctx.strokeStyle = '#222'
        ctx.lineWidth = 1
        for (let k = -7; k <= 8; k++) {
            const v = k * 0.25 / 3
            const y = Math.round(ys.getPixelForValue(v)) + 0.5
            if (y < area.top || y > area.bottom) continue
            const major = k === 3 || k === -3
            line(ctx, area.right - (major ? 4 : 3), y, area.right + (major ? 4 : 0), y)
        }
        const last = oscValues[oscValues.length - 1]
        callout(ctx, area.right - 3, Math.min(ys.getPixelForValue(last), area.bottom - 7), last.toFixed(3), '#fff', '#333')
        text(ctx, 'Awesome Osc(34,5)', 11, 15, 'bold 12px ' + FONT, '#1a1a1a', 'left')
        text(ctx, '\u21E7\u2612', 1604, 11, '13px DejaVu Sans', '#9a9a9a', 'right')
        ctx.restore()
    }
}

const oscChart = new Chart(document.getElementById('osc-chart'), {
    type: 'bar',
    data: {
        datasets: [{
            label: 'Awesome Osc',
            data: pts(bars, oscValues),
            backgroundColor: c => (c.dataIndex === 0 || oscValues[c.dataIndex] > oscValues[c.dataIndex - 1]) ? '#2f2ff5' : '#a52c2c',
            borderColor: c => (c.dataIndex === 0 || oscValues[c.dataIndex] > oscValues[c.dataIndex - 1]) ? '#a0a0ff' : '#dc9a9a',
            borderWidth: 1, borderSkipped: false, barThickness: 5, grouped: false
        }]
    },
    options: {
        responsive: false,
        animation: false,
        devicePixelRatio: 1,
        layout: { padding: { left: 5, top: 3, right: 0, bottom: 4 } },
        plugins: { legend: { display: false }, tooltip: { enabled: false } },
        scales: {
            x: { type: 'linear', min: X_MIN, max: X_MAX, offset: false, display: false },
            y: {
                type: 'linear', position: 'right', min: -0.6429, max: 0.6786,
                grid: { display: false, drawTicks: false }, border: { display: true, color: '#222', width: 1 },
                afterBuildTicks: s => { s.ticks = oscTicks.map(v => ({ value: v })) },
                afterFit: s => { s.width = 53; s.paddingTop = 0; s.paddingBottom = 0 },
                ticks: { padding: 3, color: '#111', font: { size: 12 }, callback: v => v.toFixed(3) }
            }
        }
    },
    plugins: [oscPlugin]
})
</script>
</body>
</html>
